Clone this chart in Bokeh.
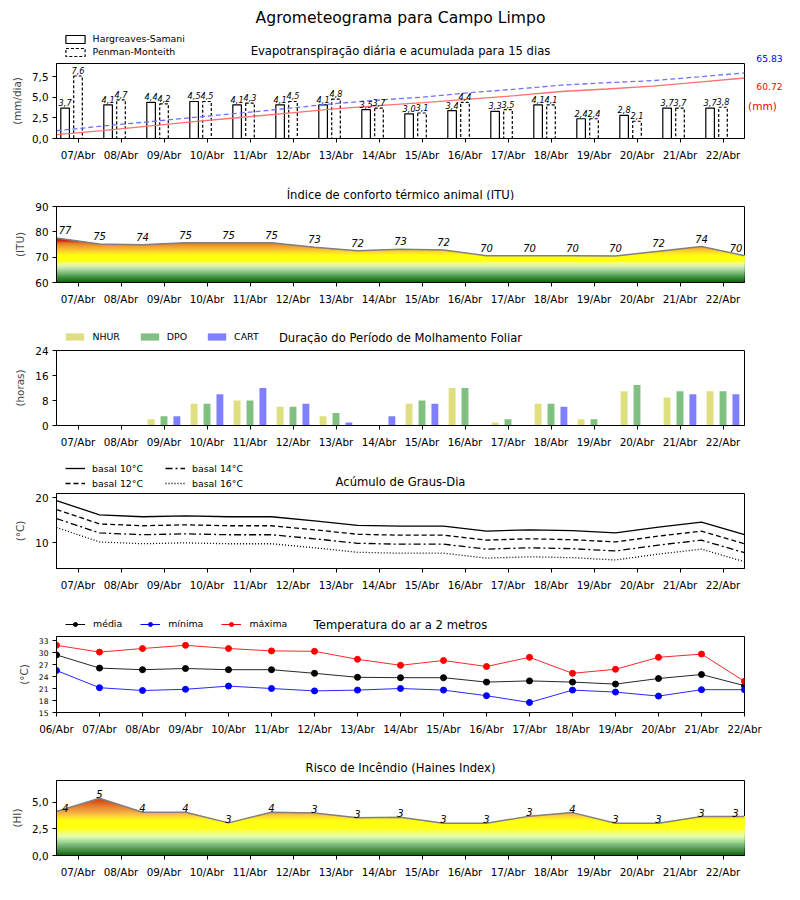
import numpy as np
from bokeh.plotting import figure
from bokeh.models import (Range1d, FixedTicker, Legend, LegendItem, ColumnDataSource)
from bokeh.layouts import column, row
from bokeh.embed import file_html
from bokeh.resources import INLINE
from bokeh.core.properties import value
from bokeh.transform import dodge

FONT = "DejaVu Sans"

# ---------------- data ----------------
days = ["07/Abr", "08/Abr", "09/Abr", "10/Abr", "11/Abr", "12/Abr", "13/Abr", "14/Abr",
        "15/Abr", "16/Abr", "17/Abr", "18/Abr", "19/Abr", "20/Abr", "21/Abr", "22/Abr"]
days_t = ["06/Abr"] + days

suptitle = "Agrometeograma para Campo Limpo"
titles = ["Evapotranspiração diária e acumulada para 15 dias",
          "Índice de conforto térmico animal (ITU)",
          "Duração do Período de Molhamento Foliar",
          "Acúmulo de Graus-Dia",
          "Temperatura do ar a 2 metros",
          "Risco de Incêndio (Haines Index)"]

# Evapotranspiration (mm/dia)
et_hs = [3.7, 4.1, 4.4, 4.5, 4.1, 4.1, 4.1, 3.5, 3.0, 3.4, 3.3, 4.1, 2.4, 2.8, 3.7, 3.7]
et_pm = [7.6, 4.7, 4.2, 4.5, 4.3, 4.5, 4.8, 3.7, 3.1, 4.4, 3.5, 4.1, 2.4, 2.1, 3.7, 3.8]
et_hs_cum = [3.9, 8.0, 12.4, 16.9, 21.1, 25.2, 29.4, 33.0, 36.1, 39.6, 43.0, 47.2, 49.7, 52.6, 56.6, 60.72]
et_pm_cum = [7.8, 12.5, 16.7, 21.2, 25.5, 30.0, 34.8, 38.5, 41.6, 46.0, 49.5, 53.6, 56.0, 58.1, 61.9, 65.83]
et_hs_total = "60.72"
et_pm_total = "65.83"

# ITU
itu_vals = [77.6, 75.2, 74.9, 75.7, 75.7, 75.7, 73.9, 72.5, 73.1, 72.8, 70.6, 70.6, 70.6, 70.5, 72.3, 74.2, 70.6]
itu_labels = ["77", "75", "74", "75", "75", "75", "73", "72", "73", "72", "70", "70", "70", "70", "72", "74", "70"]

# Leaf wetness (horas)
wet_nhur = [0, 0, 2, 7, 8, 6, 3, 0, 7, 12, 1, 7, 2, 11, 9, 11]
wet_dpo = [0, 0, 3, 7, 8, 6, 4, 0, 8, 12, 2, 7, 2, 13, 11, 11]
wet_cart = [0, 0, 3, 10, 12, 7, 1, 3, 7, 0, 0, 6, 0, 0, 10, 10]

# Degree days
gd_10 = [19.4, 16.2, 15.8, 16.0, 15.8, 15.8, 14.9, 13.9, 13.7, 13.7, 12.6, 12.9, 12.7, 12.2, 13.5, 14.6, 11.8]
gd_12 = [17.4, 14.2, 13.8, 14.0, 13.8, 13.8, 12.9, 11.9, 11.7, 11.7, 10.6, 10.9, 10.7, 10.2, 11.5, 12.6, 9.8]
gd_14 = [15.4, 12.2, 11.8, 12.0, 11.8, 11.8, 10.9, 9.9, 9.7, 9.7, 8.6, 8.9, 8.7, 8.2, 9.5, 10.6, 7.8]
gd_16 = [13.4, 10.2, 9.8, 10.0, 9.8, 9.8, 8.9, 7.9, 7.7, 7.7, 6.6, 6.9, 6.7, 6.2, 7.5, 8.6, 5.8]

# Air temperature (°C)
t_med = [29.4, 26.1, 25.7, 26.0, 25.7, 25.7, 24.8, 23.8, 23.7, 23.7, 22.6, 22.9, 22.6, 22.1, 23.5, 24.5, 21.7]
t_min = [25.5, 21.2, 20.5, 20.8, 21.6, 21.0, 20.4, 20.6, 21.0, 20.6, 19.2, 17.5, 20.6, 20.1, 19.1, 20.7, 20.7]
t_max = [31.8, 30.1, 31.0, 31.8, 31.0, 30.4, 30.3, 28.3, 26.8, 28.0, 26.5, 28.8, 24.8, 25.8, 28.8, 29.6, 22.8]

# Haines index
hi_vals = [4.12, 5.37, 4.06, 4.06, 3.06, 4.05, 3.98, 3.53, 3.59, 3.03, 3.03, 3.69, 4.02, 3.03, 3.03, 3.65, 3.65]
hi_labels = ["4", "5", "4", "4", "3", "4", "3", "3", "3", "3", "3", "3", "4", "3", "3", "3", "3"]

et_yticks = [0, 2.5, 5, 7.5]
et_ytick_labels = ["0,0", "2,5", "5,0", "7,5"]
hi_yticks = [0, 2.5, 5]
hi_ytick_labels = ["0,0", "2,5", "5,0"]

# ---------------- helpers ----------------
FW = 688
W = 800
FL, FR = 56, 744          # frame left / right on the page
TICK_FS = "10.4px"
LEG_FS = "9.4px"
NAN = [float("nan")]


def make_fig(fh, top, bottom, xr, yr, xticks, xlabels, yticks, ylabels, ylabel,
             ytick_fs=TICK_FS, right=56):
    p = figure(frame_width=FW, frame_height=fh, min_border_left=FL, min_border_right=right,
               min_border_top=top, min_border_bottom=bottom, x_range=xr, y_range=yr,
               output_backend="svg", toolbar_location=None, tools="", title=None)
    p.grid.visible = False
    p.outline_line_color = "black"
    p.outline_line_alpha = 1
    p.background_fill_color = "white"
    p.border_fill_color = "white"
    for ax in (p.xaxis[0], p.yaxis[0]):
        ax.axis_line_color = "black"
        ax.major_tick_line_color = "black"
        ax.minor_tick_line_color = None
        ax.major_tick_out = 4
        ax.major_tick_in = 0
        ax.major_label_text_color = "black"
        ax.major_label_text_font = FONT
    p.xaxis.ticker = FixedTicker(ticks=xticks)
    p.xaxis.major_label_overrides = {t: l for t, l in zip(xticks, xlabels)}
    p.xaxis.major_label_text_font_size = TICK_FS
    p.xaxis.major_label_standoff = 6
    p.yaxis.ticker = FixedTicker(ticks=yticks)
    p.yaxis.major_label_overrides = {t: l for t, l in zip(yticks, ylabels)}
    p.yaxis.major_label_text_font_size = ytick_fs
    p.yaxis.major_label_standoff = 4
    p.yaxis.axis_label = ylabel
    p.yaxis.axis_label_text_font = FONT
    p.yaxis.axis_label_text_font_size = "10.4px"
    p.yaxis.axis_label_text_font_style = "normal"
    p.yaxis.axis_label_standoff = 6
    return p


def header(h, right=56):
    """Text-only strip aligned with the frames below; x in page pixels, y downwards."""
    hf = figure(width=FL + FW + right, height=h, x_range=Range1d(FL, FR), y_range=Range1d(h, 0),
                min_border_left=FL, min_border_right=right, min_border_top=0, min_border_bottom=0,
                x_axis_type=None, y_axis_type=None, output_backend="svg",
                toolbar_location=None, tools="", title=None)
    hf.outline_line_color = None
    hf.background_fill_color = "white"
    hf.border_fill_color = "white"
    return hf


def htext(hf, x, y, txt, size="11.6px", color="black", align="center"):
    hf.text(x=[x], y=[y], text=[txt], text_align=align, text_baseline="middle",
            text_font=value(FONT), text_font_size=size, text_color=color)


def hex2rgb(h):
    h = h.lstrip("#")
    return [int(h[i:i + 2], 16) for i in (0, 2, 4)]


def ramp_bands(stops, lo, hi, step):
    vs = np.array([s[0] for s in stops], dtype=float)
    cols = np.array([hex2rgb(s[1]) for s in stops], dtype=float)
    bottoms = np.arange(lo, hi, step)
    mids = bottoms + step / 2
    out = []
    for m in mids:
        c = [int(round(np.interp(m, vs, cols[:, k]))) for k in range(3)]
        out.append("#%02x%02x%02x" % tuple(c))
    return list(bottoms), out


def gradient_patches(xs, ys, stops, lo, step):
    """Area under the polyline, coloured by height: one polygon per band, from the band's
    floor up to the polyline (exact crossing points added so nothing exceeds the line)."""
    xs = np.asarray(xs, float)
    ys = np.asarray(ys, float)
    bottoms, colors = ramp_bands(stops, lo, ys.max(), step)
    pxs, pys = [], []
    for b in bottoms:
        gx = list(xs)
        for i in range(len(xs) - 1):
            y0, y1 = ys[i], ys[i + 1]
            if (y0 - b) * (y1 - b) < 0:
                gx.append(xs[i] + (b - y0) / (y1 - y0) * (xs[i + 1] - xs[i]))
        gx = np.sort(np.array(gx))
        gy = np.maximum(np.interp(gx, xs, ys), b)
        pxs.append(list(gx) + list(gx[::-1]))
        pys.append(list(gy) + [b] * len(gx))
    return pxs, pys, colors


def legend(items, loc, **kw):
    return Legend(items=items, location=loc, padding=0, margin=0, border_line_color=None,
                  background_fill_alpha=0, label_text_font=FONT, label_text_font_size=LEG_FS,
                  label_text_color="black", **kw)


idx16 = list(range(16))
idx17 = list(range(17))
half_ticks = [i + 0.5 for i in range(16)]

# ---------------- 1. ET ----------------
h1 = header(61, right=2)
htext(h1, 400, 17, suptitle, size="15.6px")
htext(h1, 400, 50, titles[0])
d_hs = h1.vbar(x=NAN, top=NAN, width=1, fill_color="white", line_color="black", line_width=1.2)
d_pm = h1.vbar(x=NAN, top=NAN, width=1, fill_color="white", line_color="black", line_width=1.2,
               line_dash="3 2")
h1.add_layout(legend([LegendItem(label="Hargreaves-Samani", renderers=[d_hs]),
                      LegendItem(label="Penman-Monteith", renderers=[d_pm])],
                     (6.6, 3.7), orientation="vertical", glyph_width=24, glyph_height=10,
                     label_height=10, spacing=2, label_standoff=6))

p1 = make_fig(75, 2, 32, Range1d(-0.5, 15.5), Range1d(0, 9.12),
              idx16, days, et_yticks, et_ytick_labels, "(mm/dia)", right=2)
p1.extra_x_ranges = {"cumx": Range1d(0, 15)}
p1.extra_y_ranges = {"cumy": Range1d(0, 75.3)}
src1 = ColumnDataSource(dict(x=idx16, hs=et_hs, pm=et_pm,
                             hs_lbl=[f"{v:.1f}".replace(".", ",") for v in et_hs],
                             pm_lbl=[f"{v:.1f}".replace(".", ",") for v in et_pm],
                             hs_cum=et_hs_cum, pm_cum=et_pm_cum))
p1.vbar(x=dodge("x", -0.3), top="hs", width=0.2, source=src1, fill_color="white",
        line_color="black", line_width=1.2)
p1.vbar(x="x", top="pm", width=0.2, source=src1, fill_color="white",
        line_color="black", line_width=1.2, line_dash="3 2")
p1.line("x", "hs_cum", source=src1, x_range_name="cumx", y_range_name="cumy",
        line_color="#ff7070", line_width=1.3)
p1.line("x", "pm_cum", source=src1, x_range_name="cumx", y_range_name="cumy",
        line_color="#7070ff", line_width=1.3, line_dash="5 3")
for xcol, ycol, lcol in ((dodge("x", -0.3), "hs", "hs_lbl"), ("x", "pm", "pm_lbl")):
    p1.text(x=xcol, y=ycol, text=lcol, source=src1, text_align="center", text_baseline="bottom",
            y_offset=-2, text_font=value(FONT), text_font_size="8.2px", text_font_style="italic",
            text_color="black")

s1 = figure(width=W - FR - 2, height=170, x_range=Range1d(FR + 2, W), y_range=Range1d(170, 0),
            min_border=0, x_axis_type=None, y_axis_type=None, output_backend="svg",
            toolbar_location=None, tools="", title=None)
s1.outline_line_color = None
htext(s1, 769, 57.5, et_pm_total, size="9.2px", color="blue")
htext(s1, 769, 86, et_hs_total, size="9.2px", color="red")
htext(s1, 762, 105.3, "(mm)", size="10.6px", color="red")

panel1 = row(column(h1, p1, spacing=0), s1, spacing=0)

# ---------------- 2. ITU ----------------
h2 = header(30)
htext(h2, 400, 24, titles[1])
p2 = make_fig(76, 6, 31, Range1d(0, 16), Range1d(60, 90),
              half_ticks, days, [60, 70, 80, 90], ["60", "70", "80", "90"], "(ITU)")
itu_stops = [(60, "#0a600a"), (61.2, "#2a7a2a"), (62.5, "#4a9a4a"), (63.7, "#78b878"),
             (65, "#a8d8a0"), (66.3, "#d8f0b0"), (67.6, "#f0ff90"), (68.6, "#ffff10"),
             (70.8, "#ffff10"), (71.8, "#ffe020"), (73, "#f8c030"), (74.3, "#f0a030"),
             (75.6, "#e07820"), (76.6, "#d02010"), (78, "#cc0000")]
gx2, gy2, gc2 = gradient_patches(idx17, itu_vals, itu_stops, 60, 0.4)
p2.patches(xs=gx2, ys=gy2, fill_color=gc2, line_color=None)
src2 = ColumnDataSource(dict(x=idx17, y=itu_vals, lbl=itu_labels, xoff=[8.5] + [0] * 15 + [-8.5]))
p2.line("x", "y", source=src2, line_color="#808080", line_width=1.5)
p2.text(x="x", y="y", text="lbl", source=src2, x_offset="xoff", y_offset=-4, text_align="center",
        text_baseline="bottom", text_font=value(FONT), text_font_size="10px",
        text_font_style="italic", text_color="black")

# ---------------- 3. Leaf wetness ----------------
h3 = header(31)
htext(h3, 400, 24, titles[2])
d_n = h3.vbar(x=NAN, top=NAN, width=1, fill_color="#dfdf80", line_color=None)
d_d = h3.vbar(x=NAN, top=NAN, width=1, fill_color="#80c080", line_color=None)
d_c = h3.vbar(x=NAN, top=NAN, width=1, fill_color="#8080ff", line_color=None)
h3.add_layout(legend([LegendItem(label="NHUR", renderers=[d_n]), LegendItem(label="DPO", renderers=[d_d]),
                      LegendItem(label="CART", renderers=[d_c])],
                     (7.4, 1.8), orientation="horizontal", glyph_width=23, glyph_height=9,
                     label_height=10, spacing=18, label_standoff=6))
p3 = make_fig(75, 6, 31, Range1d(-0.5, 15.5), Range1d(0, 24),
              idx16, days, [0, 8, 16, 24], ["0", "8", "16", "24"], "(horas)")
src3 = ColumnDataSource(dict(x=idx16, nhur=wet_nhur, dpo=wet_dpo, cart=wet_cart))
p3.vbar(x=dodge("x", -0.3), top="nhur", width=0.16, source=src3, fill_color="#dfdf80", line_color=None)
p3.vbar(x="x", top="dpo", width=0.16, source=src3, fill_color="#80c080", line_color=None)
p3.vbar(x=dodge("x", 0.3), top="cart", width=0.16, source=src3, fill_color="#8080ff", line_color=None)

# ---------------- 4. Degree days ----------------
h4 = header(34)
htext(h4, 400, 25, titles[3])
dash4 = ["solid", "5 3", "7 3 2 3", "1 2"]
d4 = [h4.line(x=NAN, y=NAN, line_color="black", line_width=1.3, line_dash=d) for d in dash4]
h4.add_layout(legend([LegendItem(label="basal 10°C", renderers=[d4[0]]),
                      LegendItem(label="basal 12°C", renderers=[d4[1]]),
                      LegendItem(label="basal 14°C", renderers=[d4[2]]),
                      LegendItem(label="basal 16°C", renderers=[d4[3]])],
                     (9, 1.2), orientation="vertical", ncols=2, glyph_width=20, glyph_height=10,
                     label_height=10, spacing=4, label_standoff=7, label_width=69))
p4 = make_fig(75, 3, 31, Range1d(0, 16), Range1d(4.3, 20.96),
              half_ticks, days, [10, 20], ["10", "20"], "(°C)")
src4 = ColumnDataSource(dict(x=idx17, g10=gd_10, g12=gd_12, g14=gd_14, g16=gd_16))
for col, d in zip(("g10", "g12", "g14", "g16"), dash4):
    p4.line("x", col, source=src4, line_color="black", line_width=1.3, line_dash=d)

# ---------------- 5. Temperature ----------------
h5 = header(34)
htext(h5, 400, 25, titles[4])
series5 = (("med", "black", "média"), ("mn", "blue", "mínima"), ("mx", "red", "máxima"))
items5 = []
for col, colr, lab in series5:
    ln = h5.line(x=NAN, y=NAN, line_color=colr, line_width=1)
    sc = h5.scatter(x=NAN, y=NAN, marker="circle", size=6, fill_color=colr, line_color=colr)
    items5.append(LegendItem(label=lab, renderers=[ln, sc]))
h5.add_layout(legend(items5, (9, 3.8), orientation="horizontal", glyph_width=20, glyph_height=10,
                     label_height=10, spacing=18, label_standoff=8))
p5 = make_fig(76, 3, 30, Range1d(0, 16), Range1d(15, 34),
              idx17, days_t, [15, 18, 21, 24, 27, 30, 33], ["15", "18", "21", "24", "27", "30", "33"],
              "(°C)", ytick_fs="7.6px")
src5 = ColumnDataSource(dict(x=idx17, med=t_med, mn=t_min, mx=t_max))
for col, colr, lab in series5:
    p5.line("x", col, source=src5, line_color=colr, line_width=1, line_alpha=0.85)
    p5.scatter("x", col, source=src5, marker="circle", size=6, fill_color=colr, line_color=colr)

# ---------------- 6. Haines ----------------
h6 = header(35)
htext(h6, 400, 25, titles[5])
p6 = make_fig(75, 3, 30, Range1d(0, 16), Range1d(0, 7.03),
              half_ticks, days, hi_yticks, hi_ytick_labels, "(HI)")
hi_stops = [(0, "#0a600a"), (0.4, "#3a8a3a"), (0.9, "#70b070"), (1.4, "#b0e0a0"), (1.8, "#e8ffb0"),
            (2.2, "#f8ff60"), (2.6, "#ffff10"), (3.3, "#ffff10"), (3.7, "#ffd040"), (4.1, "#f4a840"),
            (4.6, "#e88030"), (5.1, "#d85010"), (5.6, "#cc3000")]
gx6, gy6, gc6 = gradient_patches(idx17, hi_vals, hi_stops, 0, 0.1)
p6.patches(xs=gx6, ys=gy6, fill_color=gc6, line_color=None)
src6 = ColumnDataSource(dict(x=idx17, y=hi_vals, lbl=hi_labels, xoff=[9] + [0] * 15 + [-9]))
p6.line("x", "y", source=src6, line_color="#808080", line_width=1.5)
p6.text(x="x", y="y", text="lbl", source=src6, x_offset="xoff", y_offset=0, text_align="center",
        text_baseline="bottom", text_font=value(FONT), text_font_size="10px",
        text_font_style="italic", text_color="black")

layout = column(panel1, h2, p2, h3, p3, h4, p4, h5, p5, h6, p6, spacing=0)
open("out.html", "w").write(file_html(layout, INLINE))
